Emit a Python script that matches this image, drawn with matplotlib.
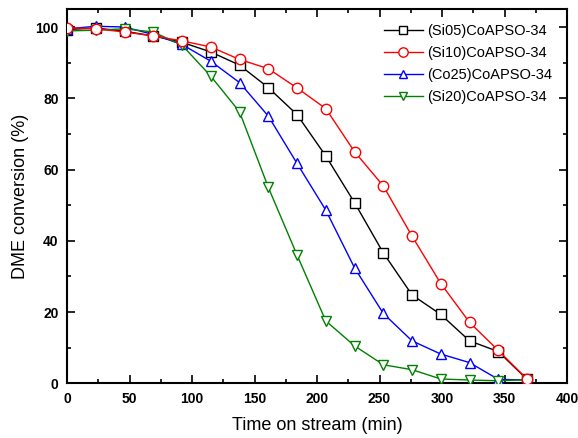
import matplotlib
matplotlib.use("Agg")
import matplotlib.pyplot as plt
from matplotlib.ticker import MultipleLocator

plt.rcParams['font.family'] = ['Liberation Sans', 'DejaVu Sans']

time = [0, 23, 46, 69, 92, 115, 138, 161, 184, 207, 230, 253, 276, 299, 322, 345, 368]

si05 = [99.3, 99.7, 98.8, 97.5, 95.7, 93.0, 89.3, 83.0, 75.4, 63.8, 50.7, 36.6, 24.8, 19.3, 11.9, 8.9, 1.1]
si10 = [99.8, 99.5, 98.6, 97.5, 96.1, 94.4, 90.9, 88.3, 82.9, 77.1, 65.0, 55.4, 41.3, 28.0, 17.1, 9.2, 1.2]
co25 = [99.5, 100.2, 100.0, 97.9, 95.1, 90.4, 84.4, 75.0, 61.7, 48.6, 32.4, 19.6, 11.9, 8.2, 5.8, 1.1, 0.9]
si20 = [98.9, 99.1, 99.5, 98.6, 94.9, 86.2, 76.2, 55.0, 36.0, 17.5, 10.5, 5.2, 3.8, 1.2, 0.9, 0.7, 1.0]

labels = ['(Si05)CoAPSO-34', '(Si10)CoAPSO-34', '(Co25)CoAPSO-34', '(Si20)CoAPSO-34']

fig = plt.figure(figsize=(5.78, 4.38), dpi=100)
ax = fig.add_axes([0.116, 0.125, 0.865, 0.854])

common = dict(lw=1.0, markersize=6.5, markerfacecolor='white', markeredgewidth=1.0)
l1, = ax.plot(time, si05, color='black', marker='s', label=labels[0], zorder=3, **common)
l3, = ax.plot(time, co25, color='blue', marker='^', label=labels[2], zorder=4, **common)
l4, = ax.plot(time, si20, color='green', marker='v', label=labels[3], zorder=5, **common)
l2, = ax.plot(time, si10, color='red', marker='o', label=labels[1], zorder=6, markersize=7.5,
              lw=1.0, markerfacecolor='white', markeredgewidth=1.0)

ax.set_xlim(0, 400)
ax.set_ylim(0, 105)
ax.xaxis.set_major_locator(MultipleLocator(50))
ax.xaxis.set_minor_locator(MultipleLocator(25))
ax.yaxis.set_major_locator(MultipleLocator(20))
ax.yaxis.set_minor_locator(MultipleLocator(10))
ax.tick_params(which='both', direction='in', top=True, right=True, width=1.2)
ax.tick_params(which='major', length=6, labelsize=10, pad=6)
ax.tick_params(which='minor', length=3)
for lab in ax.get_xticklabels() + ax.get_yticklabels():
    lab.set_fontweight('bold')
for sp in ax.spines.values():
    sp.set_linewidth(1.5)

ax.set_xlabel('Time on stream (min)', fontsize=13, labelpad=8)
ax.set_ylabel('DME conversion (%)', fontsize=13, labelpad=5)

ax.legend(handles=[l1, l2, l3, l4], loc='upper right', frameon=False, fontsize=10.5,
          handlelength=2.7, handletextpad=0.3, bbox_to_anchor=(1.0, 1.0),
          borderaxespad=0.6, labelspacing=0.55, markerscale=0.9)

fig.savefig('out.png', dpi=100)
